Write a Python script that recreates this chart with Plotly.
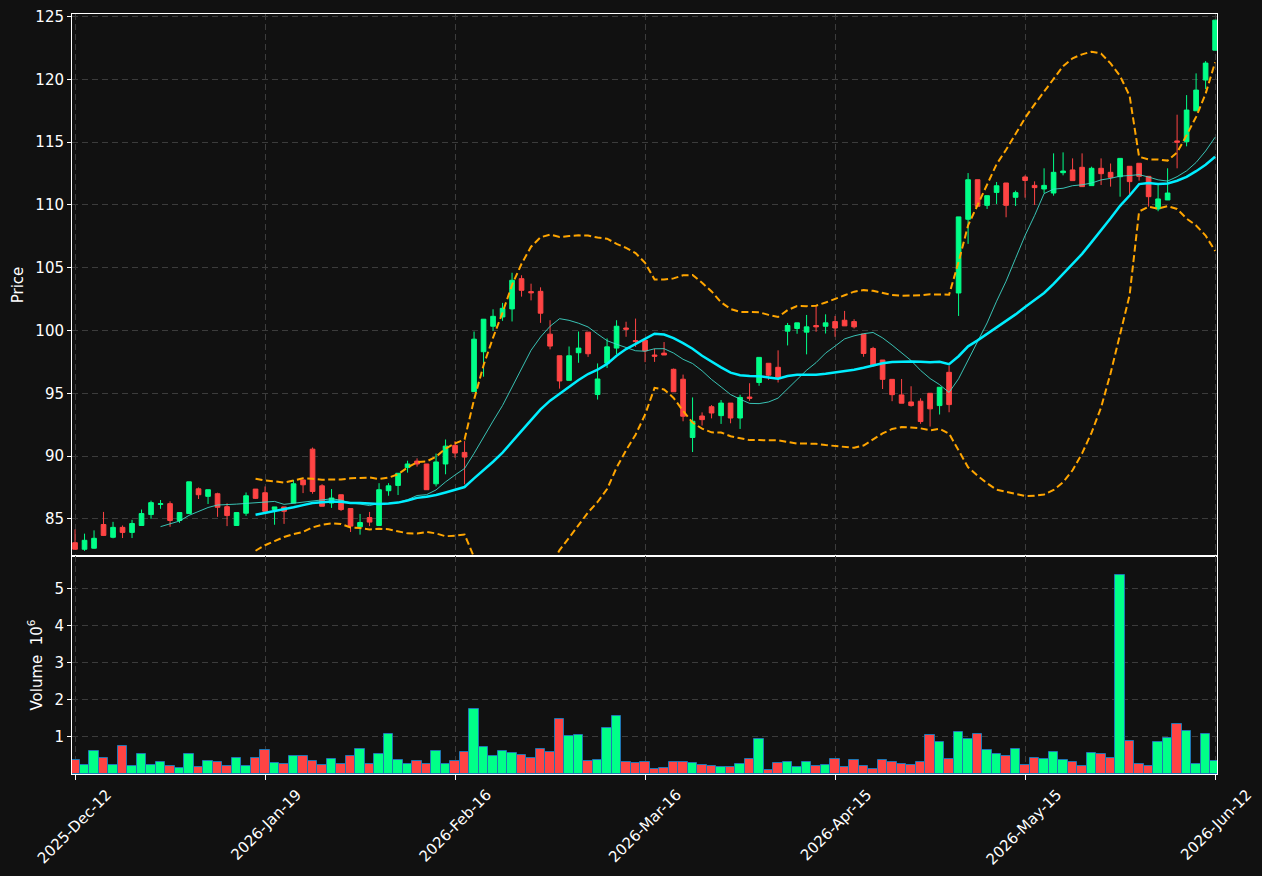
import pandas as pd
import plotly.graph_objects as go

# ---------------- data ----------------
HOLIDAYS = ["2025-12-24", "2025-12-25", "2025-12-26", "2025-12-31", "2026-01-01",
            "2026-01-02", "2026-04-03", "2026-04-06", "2026-05-01", "2026-05-14"]
DATES = [d.strftime("%Y-%m-%d") for d in pd.bdate_range("2025-12-12", "2026-06-12")
         if d.strftime("%Y-%m-%d") not in HOLIDAYS]

OPEN = [83.10, 82.58, 82.66, 84.55, 83.53, 84.32, 83.92, 84.47, 85.34, 86.15,
        86.21, 84.87, 85.42, 87.39, 86.79, 87.00, 85.97, 84.47, 85.45, 87.37,
        87.08, 85.74, 85.95, 86.26, 88.10, 90.55, 87.63, 86.26, 86.92, 85.82,
        84.37, 85.10, 84.47, 87.24, 87.66, 89.08, 89.60, 89.37, 87.79, 89.37,
        90.85, 90.29, 95.13, 98.31, 100.34, 101.08, 101.72, 104.13, 103.10, 103.12,
        99.71, 97.99, 96.03, 98.23, 99.87, 94.90, 97.40, 98.60, 100.20, 99.20,
        99.22, 98.05, 98.20, 96.91, 96.12, 91.48, 93.19, 93.93, 93.22, 94.22,
        93.03, 94.70, 95.86, 97.39, 97.07, 99.95, 100.16, 99.87, 100.40, 100.34,
        100.71, 100.82, 100.71, 99.71, 98.57, 97.65, 96.11, 94.87, 94.31, 94.37,
        95.00, 94.02, 96.67, 102.99, 108.86, 112.01, 109.97, 111.00, 111.75, 110.61,
        112.23, 111.56, 111.27, 110.95, 112.57, 112.79, 113.00, 111.54, 112.92, 112.60,
        112.25, 113.08, 113.32, 112.28, 109.68, 110.40, 115.10, 115.04, 117.50, 119.95,
        122.33]
HIGH = [84.16, 83.82, 84.08, 85.55, 84.76, 84.47, 84.92, 85.74, 86.45, 86.50,
        86.39, 85.50, 87.95, 87.50, 87.32, 87.08, 86.24, 85.50, 87.10, 87.37,
        87.58, 85.95, 85.95, 88.10, 88.10, 90.68, 87.76, 87.37, 86.92, 85.82,
        85.39, 85.55, 87.84, 87.84, 88.63, 89.63, 89.82, 89.37, 90.20, 91.32,
        91.19, 91.19, 99.92, 100.90, 101.69, 102.20, 104.60, 104.40, 103.73, 103.44,
        100.82, 97.99, 98.73, 99.92, 99.87, 97.38, 99.37, 100.82, 100.70, 100.95,
        99.22, 98.55, 99.08, 96.97, 96.49, 94.67, 93.48, 94.06, 94.46, 94.22,
        94.88, 95.80, 97.86, 97.39, 98.42, 100.60, 100.61, 101.24, 101.93, 101.29,
        101.16, 101.56, 100.90, 99.71, 98.70, 97.65, 96.11, 96.14, 95.56, 94.60,
        95.00, 95.48, 97.20, 109.05, 112.54, 112.01, 110.74, 111.83, 111.75, 111.14,
        112.36, 111.88, 112.92, 114.11, 114.19, 113.71, 114.11, 113.05, 113.71, 113.30,
        113.71, 113.08, 113.32, 112.28, 111.67, 112.92, 117.19, 118.75, 120.48, 121.46,
        124.72]
LOW = [82.55, 82.45, 82.62, 83.63, 83.45, 83.47, 83.47, 84.47, 85.00, 85.80,
       84.37, 84.68, 85.42, 86.58, 86.18, 85.16, 84.42, 84.47, 85.24, 86.58,
       85.60, 84.53, 84.60, 86.26, 87.05, 87.00, 86.00, 85.87, 85.63, 83.95,
       83.74, 84.42, 84.47, 86.84, 86.90, 88.68, 89.16, 87.32, 87.58, 88.55,
       89.87, 87.75, 95.13, 96.32, 99.97, 100.77, 100.72, 102.70, 102.40, 100.61,
       98.50, 95.37, 96.03, 97.43, 97.90, 94.50, 97.02, 98.12, 99.50, 98.70,
       97.48, 97.50, 98.05, 95.12, 92.77, 90.32, 92.43, 93.00, 92.56, 92.61,
       92.16, 94.40, 95.60, 96.07, 95.86, 98.81, 99.74, 98.10, 99.90, 99.76,
       99.50, 100.37, 100.16, 97.91, 97.12, 95.34, 94.37, 94.21, 93.94, 92.57,
       92.35, 93.31, 93.49, 101.16, 106.90, 109.89, 109.68, 110.08, 109.02, 109.92,
       110.58, 110.00, 110.93, 110.74, 112.36, 111.94, 111.46, 111.54, 111.59, 111.46,
       110.66, 110.88, 111.94, 109.87, 109.50, 110.40, 112.92, 114.67, 117.50, 119.23,
       122.33]
CLOSE = [82.58, 83.29, 83.45, 83.68, 84.32, 83.92, 84.63, 85.42, 86.29, 86.20,
         84.87, 85.50, 87.95, 86.92, 87.32, 85.92, 85.26, 85.50, 86.84, 86.63,
         85.60, 85.95, 85.60, 87.79, 87.71, 87.18, 86.00, 86.66, 85.74, 84.42,
         84.71, 84.74, 87.32, 87.63, 88.63, 89.37, 89.37, 87.32, 89.53, 90.79,
         90.24, 89.92, 99.31, 100.90, 101.13, 101.77, 104.00, 103.20, 103.00, 101.38,
         98.76, 95.98, 97.99, 98.60, 98.15, 96.14, 98.70, 100.34, 100.10, 99.12,
         98.38, 97.95, 98.05, 95.12, 93.17, 92.77, 92.90, 93.43, 94.22, 93.03,
         94.67, 94.60, 97.86, 96.44, 96.25, 100.40, 100.61, 100.29, 100.29, 100.61,
         100.20, 100.37, 100.29, 98.17, 97.20, 96.11, 94.89, 94.21, 94.02, 92.75,
         93.76, 95.48, 94.10, 109.05, 112.01, 109.89, 110.74, 111.53, 109.97, 110.98,
         111.95, 111.38, 111.56, 112.60, 112.70, 111.94, 111.46, 112.92, 112.49, 112.20,
         113.71, 111.86, 112.28, 110.66, 110.48, 110.95, 115.00, 117.56, 119.15, 121.30,
         124.72]
VOLUME_M = [0.38, 0.24, 0.62, 0.43, 0.24, 0.76, 0.21, 0.54, 0.24, 0.33,
            0.21, 0.16, 0.54, 0.19, 0.35, 0.33, 0.21, 0.43, 0.21, 0.43,
            0.65, 0.30, 0.26, 0.48, 0.48, 0.35, 0.24, 0.41, 0.26, 0.48,
            0.68, 0.26, 0.54, 1.08, 0.38, 0.26, 0.35, 0.26, 0.62, 0.26,
            0.35, 0.60, 1.76, 0.72, 0.48, 0.62, 0.57, 0.52, 0.43, 0.68,
            0.60, 1.49, 1.02, 1.06, 0.35, 0.38, 1.25, 1.57, 0.33, 0.30,
            0.33, 0.14, 0.16, 0.33, 0.33, 0.30, 0.25, 0.21, 0.18, 0.18,
            0.27, 0.41, 0.95, 0.11, 0.30, 0.33, 0.18, 0.33, 0.22, 0.25,
            0.41, 0.19, 0.38, 0.22, 0.14, 0.38, 0.33, 0.27, 0.25, 0.33,
            1.06, 0.87, 0.41, 1.14, 0.95, 1.08, 0.65, 0.54, 0.49, 0.68,
            0.24, 0.43, 0.41, 0.59, 0.38, 0.32, 0.21, 0.57, 0.54, 0.43,
            5.35, 0.89, 0.27, 0.21, 0.86, 0.97, 1.35, 1.16, 0.27, 1.08,
            0.35]
TICK_IDX = [0, 20, 40, 60, 80, 100, 120]
PRICE_TICKS = [85, 90, 95, 100, 105, 110, 115, 120, 125]
VOL_TICKS = [1, 2, 3, 4, 5]

# ---------------- derived indicators ----------------
close_s = pd.Series(CLOSE)
ma10 = close_s.rolling(10).mean()
ma20 = close_s.rolling(20).mean()
sd20 = close_s.rolling(20).std(ddof=0)
bb_up = ma20 + 2 * sd20
bb_lo = ma20 - 2 * sd20

UP = "#00ff88"
DOWN = "#ff4444"
BG = "#111111"
GRID = "#3c3c3c"
FONT = "DejaVu Sans"

vol_colors = [UP if c >= o else DOWN for o, c in zip(OPEN, CLOSE)]

fig = go.Figure()
fig.add_trace(go.Candlestick(
    x=DATES, open=OPEN, high=HIGH, low=LOW, close=CLOSE,
    increasing=dict(line=dict(color=UP, width=1), fillcolor=UP),
    decreasing=dict(line=dict(color=DOWN, width=1), fillcolor=DOWN),
    whiskerwidth=0, showlegend=False, xaxis="x", yaxis="y", name="Price"))
fig.add_trace(go.Scatter(x=DATES, y=bb_up, mode="lines", showlegend=False,
                         line=dict(color="#FFA500", width=2, dash="7px,3.5px"),
                         xaxis="x", yaxis="y", name="BB upper"))
fig.add_trace(go.Scatter(x=DATES, y=bb_lo, mode="lines", showlegend=False,
                         line=dict(color="#FFA500", width=2, dash="7px,3.5px"),
                         xaxis="x", yaxis="y", name="BB lower"))
fig.add_trace(go.Scatter(x=DATES, y=ma10, mode="lines", showlegend=False,
                         line=dict(color="rgba(64,224,208,0.85)", width=1),
                         xaxis="x", yaxis="y", name="MA10"))
fig.add_trace(go.Scatter(x=DATES, y=ma20, mode="lines", showlegend=False,
                         line=dict(color="#00EEFF", width=2.5),
                         xaxis="x", yaxis="y", name="MA20"))
fig.add_trace(go.Bar(x=DATES, y=VOLUME_M, width=1, showlegend=False,
                     marker=dict(color=vol_colors, line=dict(color="#1f77b4", width=1)),
                     xaxis="x2", yaxis="y2", name="Volume"))

split = (774 - 556) / 760.0
xr = [-0.32, 120.2]
tickvals = [DATES[i] for i in TICK_IDX]
ticktext = [pd.Timestamp(DATES[i]).strftime("%Y-%b-%d") for i in TICK_IDX]

common_axis = dict(showline=True, linecolor="white", linewidth=1, mirror=True,
                   showgrid=True, gridcolor=GRID, gridwidth=1, griddash="6px,4px",
                   zeroline=False, automargin=False,
                   tickfont=dict(color="white", size=15, family=FONT))

fig.update_layout(
    width=1262, height=876,
    paper_bgcolor=BG, plot_bgcolor=BG,
    margin=dict(l=72, r=45, t=14, b=102),
    font=dict(family=FONT, color="white", size=15),
    bargap=0,
    xaxis=dict(type="category", anchor="y", domain=[0, 1], range=xr,
               tickvals=tickvals, ticktext=ticktext, showticklabels=False,
               rangeslider=dict(visible=False), ticks="", matches="x2",
               **common_axis),
    xaxis2=dict(type="category", anchor="y2", domain=[0, 1], range=xr,
                tickvals=tickvals, ticktext=ticktext, tickangle=-45,
                ticks="outside", ticklen=5, tickcolor="white",
                ticklabelshift=32,
                **common_axis),
    yaxis=dict(anchor="x", domain=[split, 1], range=[82.04, 125.21],
               tickvals=PRICE_TICKS, ticks="outside", ticklen=4, tickcolor="white",
               title=dict(text="Price", font=dict(size=15, color="white"), standoff=8),
               **common_axis),
    yaxis2=dict(anchor="x2", domain=[0, split], range=[0, 5.87],
                tickvals=VOL_TICKS, ticks="outside", ticklen=4, tickcolor="white",
                title=dict(text="Volume  10<sup>6</sup>", font=dict(size=15, color="white"), standoff=8),
                **common_axis),
)

fig.write_html("out.html")
